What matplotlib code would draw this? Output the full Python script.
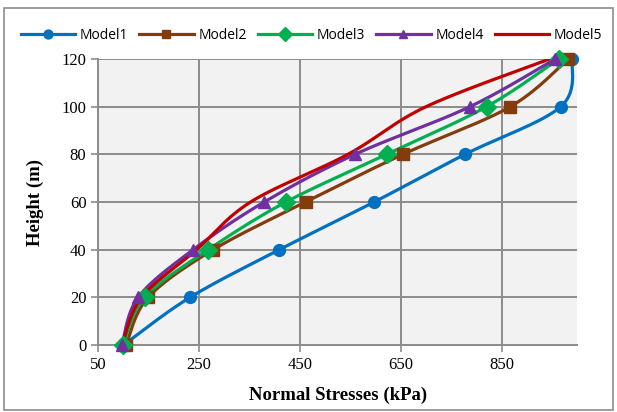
import numpy as np
import matplotlib
matplotlib.use("Agg")
import matplotlib.pyplot as plt
from matplotlib.patches import Rectangle

# datos
heights = [0, 20, 40, 60, 80, 100, 120]
model1 = [100, 232, 409, 597, 777, 967, 990]
model2 = [105, 149, 278, 461, 654, 867, 982]
model3 = [99, 142, 268, 422, 622, 820, 963]
model4 = [97, 129, 238, 379, 559, 787, 956]
model5 = [97, 136, 245, 352, 545, 700, 945]

names = ["Model1", "Model2", "Model3", "Model4", "Model5"]
colors = ["#0070C0", "#843C0C", "#00B050", "#7030A0", "#C00000"]
markers = ["o", "s", "D", "^", None]
msizes = [8.5, 8.5, 9, 8.5, 0]
xticks = [50, 250, 450, 650, 850]
yticks = [0, 20, 40, 60, 80, 100, 120]


def smooth(x, y, n=30):
    # curva suave tipo Excel (bezier con puntos de control de vecinos)
    p = np.column_stack([x, y]).astype(float)
    pts = [p[0]]
    for i in range(len(p) - 1):
        p0 = p[i - 1] if i > 0 else p[i]
        p1, p2 = p[i], p[i + 1]
        p3 = p[i + 2] if i + 2 < len(p) else p[i + 1]
        c1 = p1 + (p2 - p0) / 6
        c2 = p2 - (p3 - p1) / 6
        t = np.linspace(0, 1, n)[1:, None]
        seg = ((1 - t) ** 3) * p1 + 3 * ((1 - t) ** 2) * t * c1 + 3 * (1 - t) * t ** 2 * c2 + t ** 3 * p2
        pts.extend(seg)
    pts = np.array(pts)
    return pts[:, 0], pts[:, 1]


fig = plt.figure(figsize=(6.17, 4.12), dpi=100)
ax = fig.add_axes([0.1593, 0.1626, 0.9358 - 0.1593, 0.8568 - 0.1626])
ax.set_facecolor("#F2F2F2")

series = [model1, model2, model3, model4, model5]
handles = []
for vals, name, c, m, ms in zip(series, names, colors, markers, msizes):
    sx, sy = smooth(vals, heights)
    ax.plot(sx, sy, color=c, lw=2.3, solid_capstyle="round", zorder=3)
    if m:
        ax.plot(vals, heights, ls="none", marker=m, ms=ms, color=c, zorder=4, clip_on=False)
    h, = ax.plot([], [], color=c, lw=2.3, marker=m, ms=ms * 0.75 if m else 0, label=name)
    handles.append(h)

ax.set_xlim(50, 1000)
ax.set_ylim(0, 120)
ax.set_xticks(xticks)
ax.set_yticks(yticks)
ax.grid(True, color="#8C8C8C", lw=1.4)
ax.set_axisbelow(True)
for s in ["top", "right"]:
    ax.spines[s].set_visible(False)
for s in ["left", "bottom"]:
    ax.spines[s].set_color("#8C8C8C")
    ax.spines[s].set_linewidth(1.4)
ax.tick_params(colors="#8C8C8C", length=5, width=1.2, labelcolor="black")
for lab in ax.get_xticklabels() + ax.get_yticklabels():
    lab.set_fontfamily("Liberation Serif")
    lab.set_fontsize(12)

ax.set_xlabel("Normal Stresses (kPa)", fontfamily="Liberation Serif", fontsize=13.5,
              fontweight="bold", labelpad=10)
ax.set_ylabel("Height (m)", fontfamily="Liberation Serif", fontsize=13.5,
              fontweight="bold", labelpad=13)

fig.legend(handles=handles, loc="center", bbox_to_anchor=(0.505, 0.915), ncol=5,
           frameon=False, prop={"family": "Open Sans", "size": 10},
           handlelength=3.9, handletextpad=0.35, columnspacing=0.8)

# marco de la figura
fig.patches.append(Rectangle((4 / 617, 2 / 412), 609 / 617, 402 / 412, transform=fig.transFigure,
                             fill=False, edgecolor="#8C8C8C", lw=1.2))

fig.savefig("out.png", dpi=100)
